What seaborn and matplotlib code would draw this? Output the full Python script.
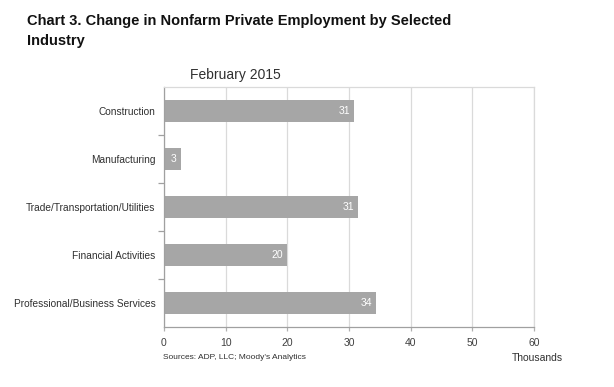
import matplotlib
matplotlib.use("agg")
import matplotlib.pyplot as plt
import seaborn as sns
import pandas as pd

industries = ["Construction", "Manufacturing", "Trade/Transportation/Utilities",
              "Financial Activities", "Professional/Business Services"]
change = [30.8, 2.7, 31.4, 19.9, 34.4]
value_labels = ["31", "3", "31", "20", "34"]
x_ticks = [0, 10, 20, 30, 40, 50, 60]

df = pd.DataFrame({"industry": industries, "change": change})

sns.set_style("white")
plt.rcParams["font.family"] = ["Liberation Sans", "DejaVu Sans"]

fig = plt.figure(figsize=(6.14, 3.87), dpi=100)
ax = fig.add_axes([0.267, 0.155, 0.603, 0.62])

sns.barplot(data=df, x="change", y="industry", color="#a6a6a6", saturation=1,
            width=0.46, linewidth=0, ax=ax, zorder=3)

for i, (v, lab) in enumerate(zip(change, value_labels)):
    ax.text(v - 0.6, i, lab, ha="right", va="center", color="white", fontsize=7.5, zorder=4)

ax.set_xlim(0, 60)
ax.set_ylim(4.5, -0.5)
ax.set_xticks(x_ticks)
ax.set_xticklabels([str(t) for t in x_ticks], fontsize=7.5, color="#404040")
ax.grid(axis="x", color="#dadada", linewidth=0.9, zorder=0)
ax.set_xlabel("")
ax.set_ylabel("")
ax.tick_params(axis="y", which="major", left=False, length=0, labelsize=7.3,
               labelcolor="#303030", pad=6)
ax.tick_params(axis="x", bottom=True, length=3, width=0.9, color="#b0b0b0",
               direction="out", pad=5)
ax.set_yticks([0.5, 1.5, 2.5, 3.5], minor=True)
ax.tick_params(axis="y", which="minor", left=True, length=4, width=0.9,
               color="#a0a0a0", direction="out")
for s in ["top", "right"]:
    ax.spines[s].set_color("#dadada")
for s in ["left", "bottom"]:
    ax.spines[s].set_color("#a0a0a0")
for s in ax.spines.values():
    s.set_linewidth(0.9)
    s.set_zorder(5)

fig.text(0.044, 0.963, "Chart 3. Change in Nonfarm Private Employment by Selected\nIndustry",
         fontsize=10.5, fontweight="bold", color="#111111", va="top", linespacing=1.5)
fig.text(0.383, 0.806, "February 2015", fontsize=10, color="#303030", ha="center", va="center")
fig.text(0.265, 0.077, "Sources: ADP, LLC; Moody's Analytics", fontsize=6, color="#303030", va="center")
fig.text(0.875, 0.074, "Thousands", fontsize=7.5, color="#303030", ha="center", va="center")

fig.savefig("out.png", dpi=100)
